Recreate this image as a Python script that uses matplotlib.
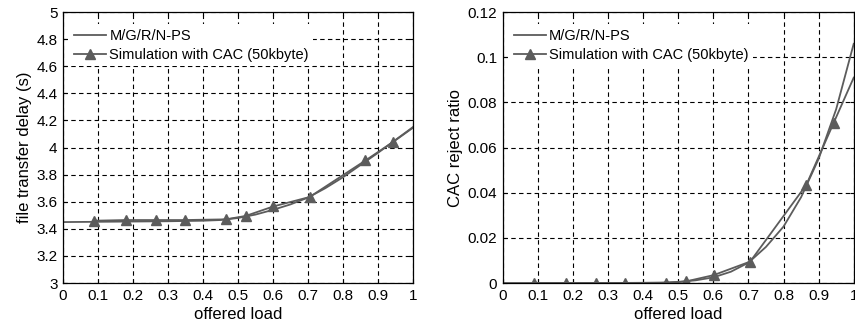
import numpy as np
import matplotlib.pyplot as plt

plt.rcParams['font.family'] = ['Liberation Sans', 'DejaVu Sans']

# offered load grid for the analytic (M/G/R/N-PS) curves
load_model = [0.0, 0.1, 0.2, 0.3, 0.4, 0.45, 0.5, 0.55, 0.6, 0.65, 0.7, 0.75, 0.8, 0.85, 0.9, 0.95, 1.0]
delay_model = [3.450, 3.452, 3.454, 3.456, 3.460, 3.465, 3.480, 3.505, 3.540, 3.580, 3.630, 3.700, 3.780, 3.870, 3.960, 4.055, 4.150]
reject_model = [0.0, 0.0, 0.0, 0.0, 0.0001, 0.0002, 0.0005, 0.0012, 0.0025, 0.005, 0.009, 0.016, 0.025, 0.038, 0.055, 0.077, 0.106]

# simulation points (last point at load 1 has no visible marker)
load_sim = [0.088, 0.18, 0.265, 0.348, 0.465, 0.522, 0.601, 0.705, 0.865, 0.943, 1.0]
delay_sim = [3.460, 3.465, 3.465, 3.465, 3.470, 3.495, 3.565, 3.635, 3.905, 4.040, 4.145]
reject_sim = [0.0, 0.0, 0.0, 0.0, 0.0, 0.0007, 0.0035, 0.0095, 0.0435, 0.071, 0.091]

x_ticks = np.arange(0, 1.01, 0.1)
x_labels = ['0', '0.1', '0.2', '0.3', '0.4', '0.5', '0.6', '0.7', '0.8', '0.9', '1']
delay_ticks = np.arange(3, 5.01, 0.2)
delay_labels = ['3', '3.2', '3.4', '3.6', '3.8', '4', '4.2', '4.4', '4.6', '4.8', '5']
reject_ticks = np.arange(0, 0.121, 0.02)
reject_labels = ['0', '0.02', '0.04', '0.06', '0.08', '0.1', '0.12']

col = '#5c5c5c'

fig = plt.figure(figsize=(8.55, 3.24), dpi=100)
ax1 = fig.add_axes([0.0737, 0.1265, 0.409, 0.836])
ax2 = fig.add_axes([0.588, 0.1265, 0.4105, 0.836])


def setup(ax, model_y, sim_y, yticks, ylabels, ylim, ylabel):
    ax.plot(load_model, model_y, color=col, lw=1.3, label='M/G/R/N-PS')
    ax.plot(load_sim, sim_y, color=col, lw=1.3, marker='^', markersize=7,
            markevery=list(range(len(load_sim) - 1)), label='Simulation with CAC (50kbyte)')
    ax.set_xlim(0, 1)
    ax.set_ylim(*ylim)
    ax.set_xticks(x_ticks)
    ax.set_xticklabels(x_labels)
    ax.set_yticks(yticks)
    ax.set_yticklabels(ylabels)
    ax.tick_params(direction='in', top=True, right=True, length=3, labelsize=11, pad=4)
    ax.grid(True, color='black', linestyle=(0, (4, 3)), lw=0.8)
    ax.set_xlabel('offered load', fontsize=12, labelpad=3)
    ax.set_ylabel(ylabel, fontsize=12, labelpad=3)
    for s in ax.spines.values():
        s.set_linewidth(0.9)
    leg = ax.legend(loc='upper left', bbox_to_anchor=(0.02, 0.955), fontsize=10.5,
                    frameon=True, fancybox=False, framealpha=1, edgecolor='white',
                    borderaxespad=0, borderpad=0.3, handlelength=2.2,
                    handletextpad=0.2, labelspacing=0.35)
    leg.get_frame().set_linewidth(0)


setup(ax1, delay_model, delay_sim, delay_ticks, delay_labels, (3, 5), 'file transfer delay (s)')
setup(ax2, reject_model, reject_sim, reject_ticks, reject_labels, (0, 0.12), 'CAC reject ratio')

fig.savefig('out.png', dpi=100)
